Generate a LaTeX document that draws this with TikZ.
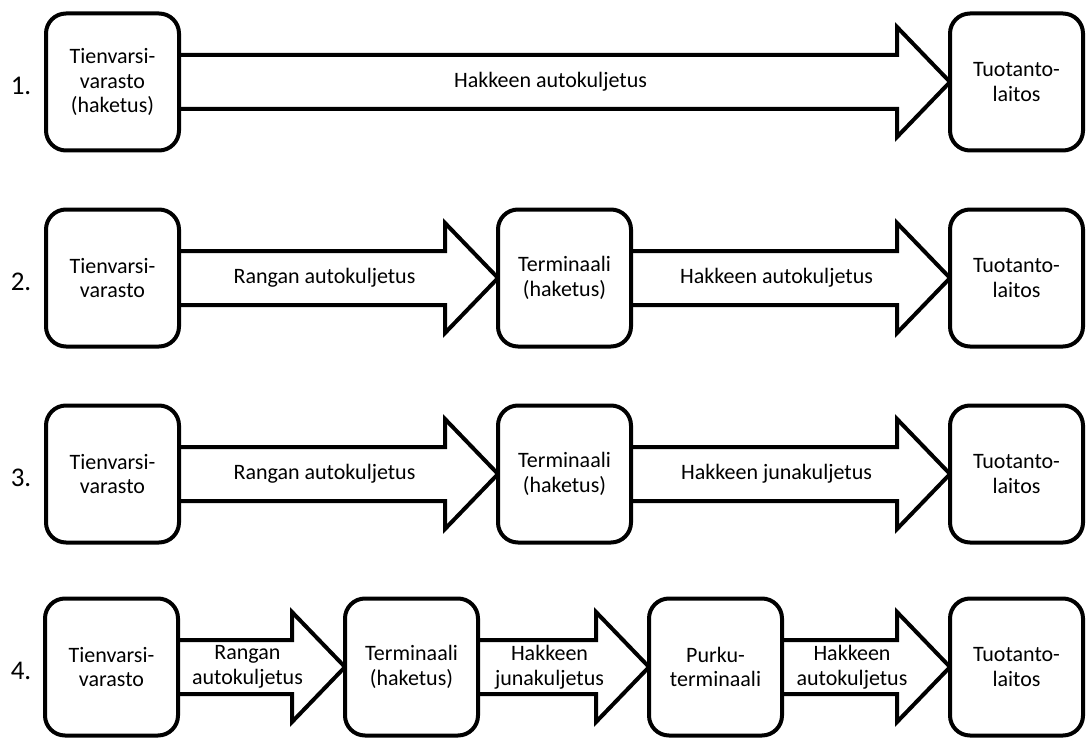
\documentclass[tikz,border=0pt]{standalone}
\usepackage{fontspec}
\setmainfont{Carlito}
\usetikzlibrary{calc}
\pgfdeclarelayer{background}
\pgfsetlayers{background,main}
\tikzset{
  box/.style={draw, line width=4pt, rounded corners=20pt, fill=white,
    minimum width=133pt, minimum height=137pt, align=center,
    inner sep=0pt, outer sep=0pt, text=black,
    font=\fontsize{22}{24.5}\selectfont},
  fatarrow/.style={draw, line width=4pt, fill=white, line join=miter},
  lbl/.style={font=\fontsize{22}{25}\selectfont, align=center, inner sep=0pt, text=black},
  num/.style={font=\fontsize{27}{30}\selectfont, inner sep=0pt, text=black}
}
\newcommand\fatarr[3]{%
  \begin{pgfonlayer}{background}
  \draw[fatarrow] ([yshift=27pt]#1.east) -- ([xshift=-53pt,yshift=27pt]#2.west)
    -- ([xshift=-53pt,yshift=55pt]#2.west) -- (#2.west)
    -- ([xshift=-53pt,yshift=-55pt]#2.west) -- ([xshift=-53pt,yshift=-27pt]#2.west)
    -- ([yshift=-27pt]#1.east);
  \end{pgfonlayer}
  \coordinate (#3) at ($(#1.east)!0.5!(#2.west)+(-14pt,0)$);
}
\begin{document}
\begin{tikzpicture}[x=1pt,y=-1pt]
\useasboundingbox (0,0) rectangle (1086,738);
% Row 1
\node[box] (a1) at (112.5,82) {Tienvarsi-\\varasto\\(haketus)};
\node[box] (b1) at (1016.5,82) {Tuotanto-\\laitos};
\node[num] (n1) at (21,86) {1.};
\fatarr{a1}{b1}{m1}
\node[lbl] (l1) at (m1) {Hakkeen autokuljetus};
% Row 2
\node[box] (a2) at (112.5,278) {Tienvarsi-\\varasto};
\node[box] (t2) at (564.5,278) {Terminaali\\(haketus)};
\node[box] (b2) at (1016.5,278) {Tuotanto-\\laitos};
\node[num] (n2) at (21,282) {2.};
\fatarr{a2}{t2}{m21}
\node[lbl] (l21) at (m21) {Rangan autokuljetus};
\fatarr{t2}{b2}{m22}
\node[lbl] (l22) at (m22) {Hakkeen autokuljetus};
% Row 3
\node[box] (a3) at (112.5,474) {Tienvarsi-\\varasto};
\node[box] (t3) at (564.5,474) {Terminaali\\(haketus)};
\node[box] (b3) at (1016.5,474) {Tuotanto-\\laitos};
\node[num] (n3) at (21,478) {3.};
\fatarr{a3}{t3}{m31}
\node[lbl] (l31) at (m31) {Rangan autokuljetus};
\fatarr{t3}{b3}{m32}
\node[lbl] (l32) at (m32) {Hakkeen junakuljetus};
% Row 4
\node[box] (a4) at (111.5,667) {Tienvarsi-\\varasto};
\node[box] (t4) at (411.5,667) {Terminaali\\(haketus)};
\node[box] (p4) at (715.5,667) {Purku-\\terminaali};
\node[box] (b4) at (1016.5,667) {Tuotanto-\\laitos};
\node[num] (n4) at (21,671) {4.};
\fatarr{a4}{t4}{m41}
\node[lbl] (l41) at (m41) {Rangan\\autokuljetus};
\fatarr{t4}{p4}{m42}
\node[lbl] (l42) at (m42) {Hakkeen\\junakuljetus};
\fatarr{p4}{b4}{m43}
\node[lbl] (l43) at (m43) {Hakkeen\\autokuljetus};
\end{tikzpicture}
\end{document}
